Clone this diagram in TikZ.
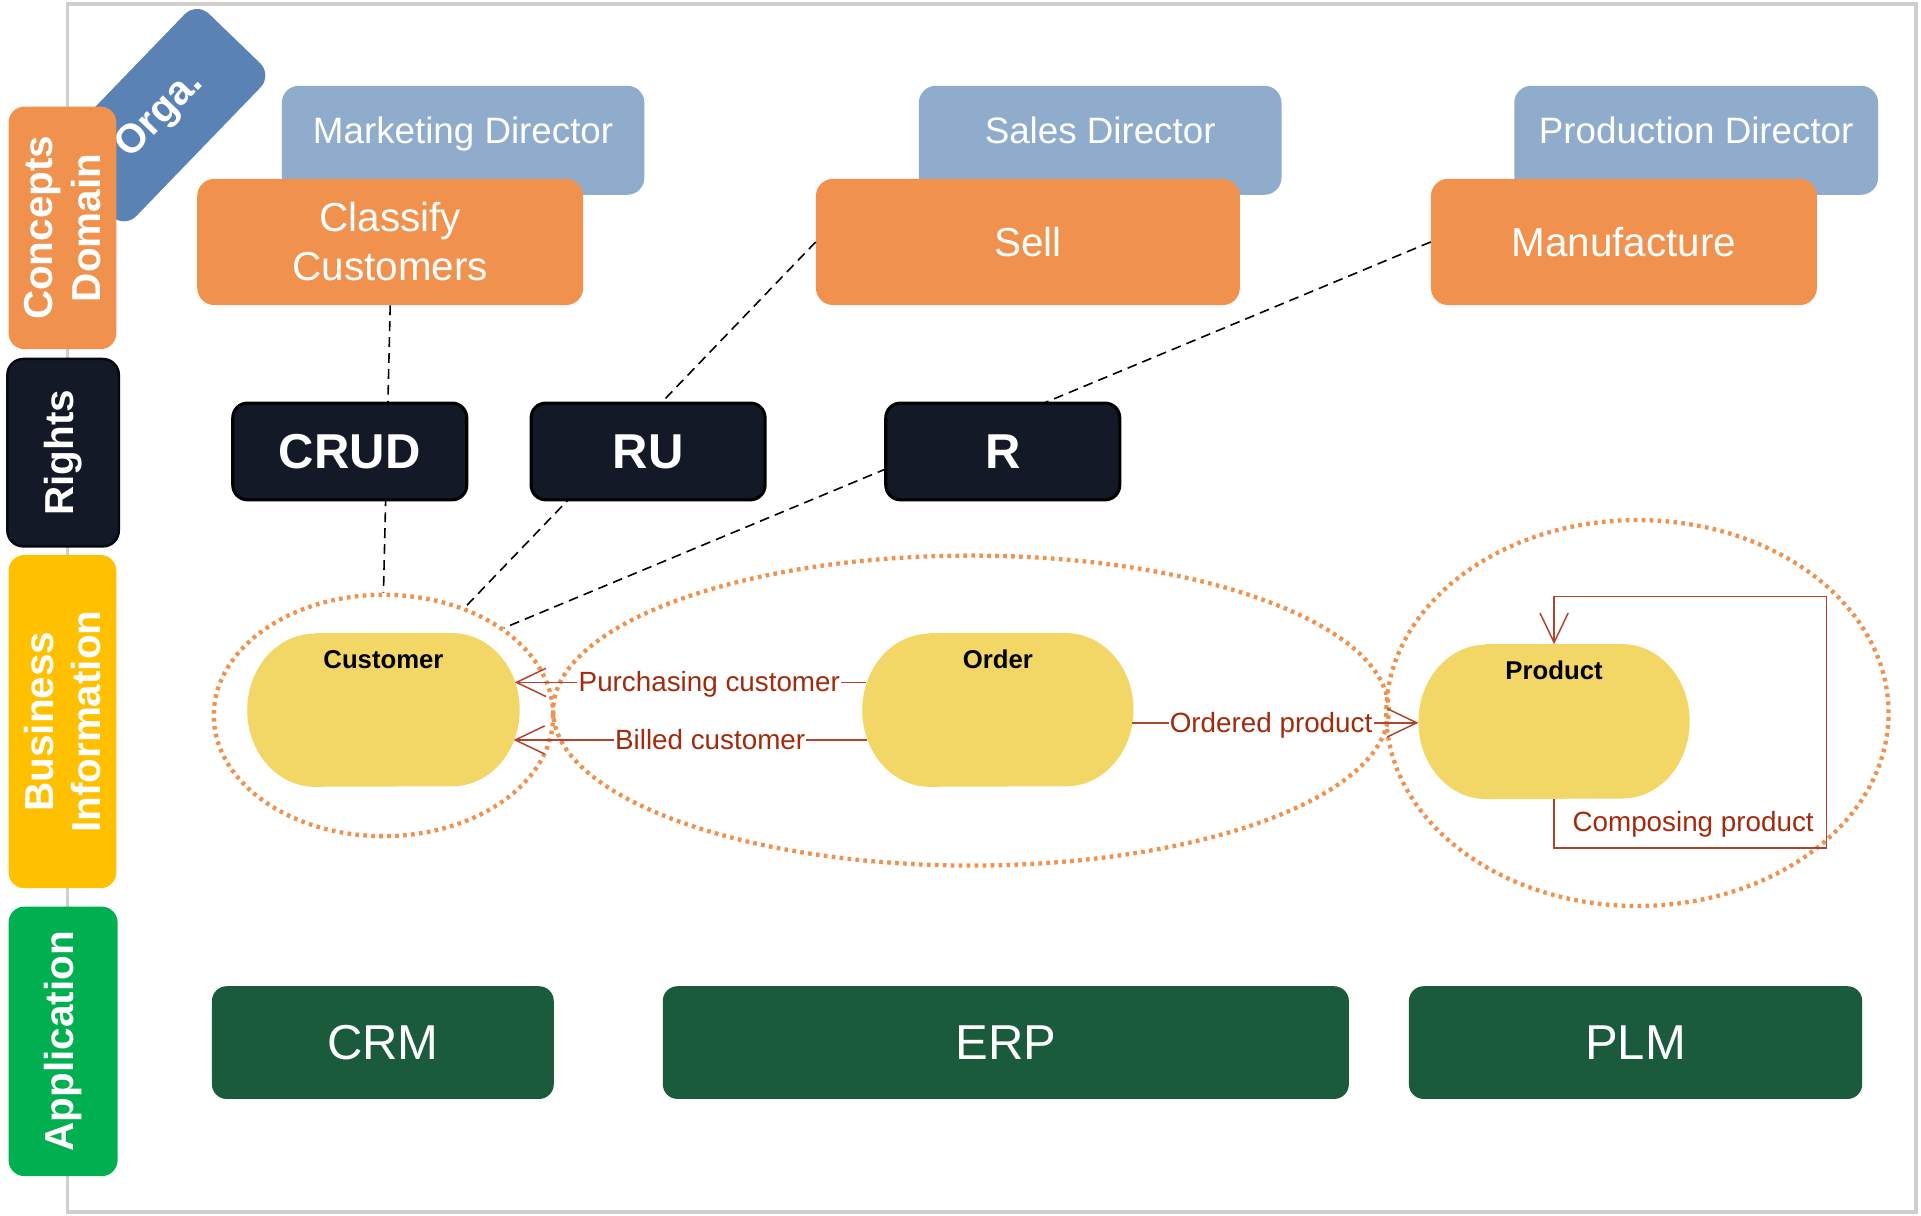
\documentclass[tikz,border=0pt]{standalone}
\usepackage{fontspec}
\setmainfont{Liberation Sans}
\usetikzlibrary{shapes.geometric,arrows.meta,calc}
\definecolor{framec}{HTML}{D0CECE}
\definecolor{orng}{HTML}{F0924E}
\definecolor{lblue}{HTML}{8FACCD}
\definecolor{dblue}{HTML}{5A82B4}
\definecolor{navy}{HTML}{131926}
\definecolor{navyb}{HTML}{06090E}
\definecolor{ylw}{HTML}{FFC000}
\definecolor{grn}{HTML}{00B050}
\definecolor{dgrn}{HTML}{1A5B3B}
\definecolor{entc}{HTML}{F2D766}
\definecolor{relc}{HTML}{B0432A}
\definecolor{relt}{HTML}{A32A0C}
\pgfdeclarelayer{bg}
\pgfsetlayers{bg,main}
\newcommand\entfill[2]{%
  \fill[entc] ([xshift=55pt]#1.north west) -- ([xshift=-55pt]#1.north east)
    arc[start angle=90,end angle=-90,x radius=55pt,y radius=#2]
    -- ([xshift=55pt]#1.south west)
    arc[start angle=270,end angle=90,x radius=55pt,y radius=#2] -- cycle;}
\tikzset{
  tab/.style={rounded corners=13pt, text=white, font=\bfseries\fontsize{33}{39}\selectfont, align=center, rotate=90, inner sep=0pt},
  dirbox/.style={fill=lblue, rounded corners=14pt, minimum width=296pt, minimum height=89pt, text=white, font=\fontsize{30}{36}\selectfont, text height=22pt, text depth=16pt, inner sep=0pt},
  act/.style={fill=orng, rounded corners=14pt, minimum height=103pt, text=white, font=\fontsize{33}{40}\selectfont, align=center, inner sep=0pt},
  rightbox/.style={fill=navy, draw=black, line width=2.5pt, rounded corners=12pt, minimum width=191pt, minimum height=79pt, text=white, font=\bfseries\fontsize{40}{48}\selectfont, inner sep=0pt},
  appbox/.style={fill=dgrn, rounded corners=12pt, minimum height=92pt, text=white, font=\fontsize{40}{48}\selectfont, inner sep=0pt},
  grp/.style={ellipse, draw=orng, line width=3.5pt, dash pattern=on 3pt off 3.5pt, inner sep=0pt},
  entnode/.style={inner sep=0pt, font=\bfseries\fontsize{21}{25}\selectfont, text height=15pt, text depth=83pt},
  dsh/.style={draw=black, line width=1.3pt, dash pattern=on 8pt off 5pt},
  rel/.style={draw=relc, line width=1.2pt, -{Straight Barb[length=24pt, width=23pt, line width=1.2pt]}},
  lab/.style={fill=white, text=relt, font=\fontsize{22.7}{27}\selectfont, inner sep=1pt, text height=16pt, text depth=1pt},
}
\begin{document}
\begin{tikzpicture}[x=1pt,y=-1pt]
\begin{pgfonlayer}{bg}
\fill[white] (0,0) rectangle (1568,992);
\end{pgfonlayer}
\useasboundingbox (0,0) rectangle (1568,992);
% frame
\draw[framec, line width=3pt] (55,3) rectangle (1564,989);
% orga tab
\node[fill=dblue, rounded corners=14pt, rotate=46, minimum width=174pt, minimum height=86pt, text=white, font=\bfseries\fontsize{33}{39}\selectfont, inner sep=0pt] (orga) at (131,94) {Orga.};
% layer tabs
\node[tab, fill=orng, minimum width=198pt, minimum height=88pt] (tconc) at (51,186) {Concepts\\Domain};
\node[tab, fill=navy, draw=navyb, line width=2pt, minimum width=153pt, minimum height=91pt] (trig) at (51.5,369.5) {Rights};
\node[tab, fill=ylw, minimum width=272pt, minimum height=88pt] (tbus) at (51,589) {Business\\Information};
\node[tab, fill=grn, minimum width=220pt, minimum height=89pt] (tapp) at (51.5,850) {Application};
% directors
\node[dirbox] (mkt) at (378,114.5) {Marketing Director};
\node[dirbox] (sales) at (898,114.5) {Sales Director};
\node[dirbox, minimum width=297pt] (prodd) at (1384.5,114.5) {Production Director};
% activities
\node[act, minimum width=315pt] (classify) at (318.5,197.5) {Classify\\Customers};
\node[act, minimum width=346pt] (sell) at (839,197.5) {Sell};
\node[act, minimum width=315pt] (manuf) at (1325.5,197.5) {Manufacture};
% business groups
\node[grp, minimum width=277pt, minimum height=197pt] (cgrp) at (313,584) {};
\node[grp, minimum width=682pt, minimum height=253pt] (ogrp) at (792.5,580) {};
\node[grp, minimum width=410pt, minimum height=315pt] (pgrp) at (1336.5,582) {};
% dashed links
\draw[dsh] (classify.south) -- (cgrp.north);
\draw[dsh] (sell.west) -- (cgrp.53);
\draw[dsh] (manuf.west) -- (cgrp.36);
% rights
\node[rightbox] (crud) at (285.5,368.5) {CRUD};
\node[rightbox] (ru) at (529,368.5) {RU};
\node[rightbox] (r) at (818.5,368.5) {R};
% entities
\node[entnode, minimum width=222pt, minimum height=125pt] (cust) at (313,579.5) {Customer};
\node[entnode, minimum width=221pt, minimum height=125pt] (ord) at (814.5,579.5) {Order};
\node[entnode, minimum width=221pt, minimum height=126pt] (prod) at (1268.5,589) {Product};
\begin{pgfonlayer}{bg}
\entfill{cust}{62.5pt}
\entfill{ord}{62.5pt}
\entfill{prod}{63pt}
\end{pgfonlayer}
% relations
\draw[rel] ([xshift=3pt,yshift=22.5pt]ord.west) -- node[lab,pos=0.446]{Purchasing customer} ([xshift=-4pt,yshift=22.5pt]cust.east);
\draw[rel] ([xshift=4pt,yshift=-24.5pt]ord.west) -- node[lab,pos=0.444]{Billed customer} ([xshift=-5pt,yshift=-24.5pt]cust.east);
\draw[rel] ([xshift=-1pt,yshift=-10.5pt]ord.east) -- node[lab,pos=0.485]{Ordered product} ([yshift=-1pt]prod.west);
\coordinate (loopc) at (1491,487);
\draw[rel] (prod.south) -- ++(0,40) -| (loopc) -| (prod.north);
\node[lab, fill=none] (complab) at (1382,671) {Composing product};
% applications
\node[appbox, minimum width=279pt] (crm) at (312.5,851) {CRM};
\node[appbox, minimum width=560pt] (erp) at (821,851) {ERP};
\node[appbox, minimum width=370pt] (plm) at (1335,851) {PLM};
\end{tikzpicture}
\end{document}
